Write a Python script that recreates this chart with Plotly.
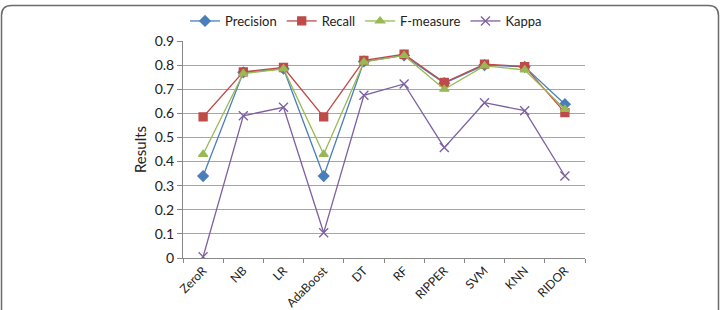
import plotly.graph_objects as go

categories = ["ZeroR", "NB", "LR", "AdaBoost", "DT", "RF", "RIPPER", "SVM", "KNN", "RIDOR"]
precision = [0.34, 0.770, 0.785, 0.34, 0.815, 0.840, 0.725, 0.800, 0.793, 0.638]
recall = [0.585, 0.772, 0.790, 0.585, 0.820, 0.845, 0.728, 0.804, 0.794, 0.603]
fmeasure = [0.43, 0.765, 0.785, 0.43, 0.813, 0.840, 0.700, 0.797, 0.780, 0.617]
kappa = [0.005, 0.59, 0.625, 0.105, 0.675, 0.722, 0.458, 0.644, 0.611, 0.340]

W, H = 721, 310
L, R, T, B = 183, 585, 41, 258

fig = go.Figure()
series = [
    ("Precision", precision, "#4A7EBB", "diamond", 8),
    ("Recall", recall, "#BE4B48", "square", 8),
    ("F-measure", fmeasure, "#98B954", "triangle-up", 8),
    ("Kappa", kappa, "#7D60A0", "x-thin-open", 9),
]
for name, vals, col, sym, sz in series:
    fig.add_trace(go.Scatter(
        x=categories, y=vals, name=name, mode="lines+markers",
        line=dict(color=col, width=1.3),
        marker=dict(symbol=sym, size=sz, color=col, line=dict(color=col, width=1.3)),
    ))

def px2paper(px, py):
    return (px - L) / (R - L), (B - py) / (B - T)

# rounded frame
x0, y0, x1, y1, r = 1.5, 5.5, 718.5, 320, 10
def P(x, y):
    a, b = px2paper(x, y)
    return f"{a:.5f},{b:.5f}"
path = (f"M {P(x0 + r, y0)} L {P(x1 - r, y0)} Q {P(x1, y0)} {P(x1, y0 + r)} "
        f"L {P(x1, y1)} L {P(x0, y1)} L {P(x0, y0 + r)} Q {P(x0, y0)} {P(x0 + r, y0)} Z")
fig.add_shape(type="path", path=path, xref="paper", yref="paper",
              line=dict(color="#6b6b6b", width=1.5), fillcolor="rgba(0,0,0,0)", layer="below")

lx, ly = px2paper(366, 21)
fig.update_layout(
    width=W, height=H,
    margin=dict(l=L, r=W - R, t=T, b=H - B, pad=0, autoexpand=False),
    paper_bgcolor="white", plot_bgcolor="white",
    font=dict(family="Lato, 'Open Sans', sans-serif", color="#222", size=13),
    showlegend=True,
    legend=dict(orientation="h", x=lx, y=ly, xanchor="center", yanchor="middle",
                font=dict(size=13), itemwidth=30, tracegroupgap=0, bgcolor="rgba(0,0,0,0)"),
    xaxis=dict(type="category", tickangle=-45, showgrid=False, showline=True, automargin=False,
               linecolor="#888", linewidth=1, ticks="outside", ticklen=4, tickcolor="#888",
               tickson="boundaries", tickfont=dict(size=12), range=[-0.5, 9.5]),
    yaxis=dict(range=[0, 0.9], dtick=0.1, showgrid=True, gridcolor="#a6a6a6", gridwidth=1,
               showline=True, linecolor="#888", ticks="outside", ticklen=5, tickcolor="#888",
               tickfont=dict(size=14), zeroline=False, automargin=False,
               title=dict(text="Results", font=dict(size=15), standoff=4)),
)
fig.write_html("out.html")
